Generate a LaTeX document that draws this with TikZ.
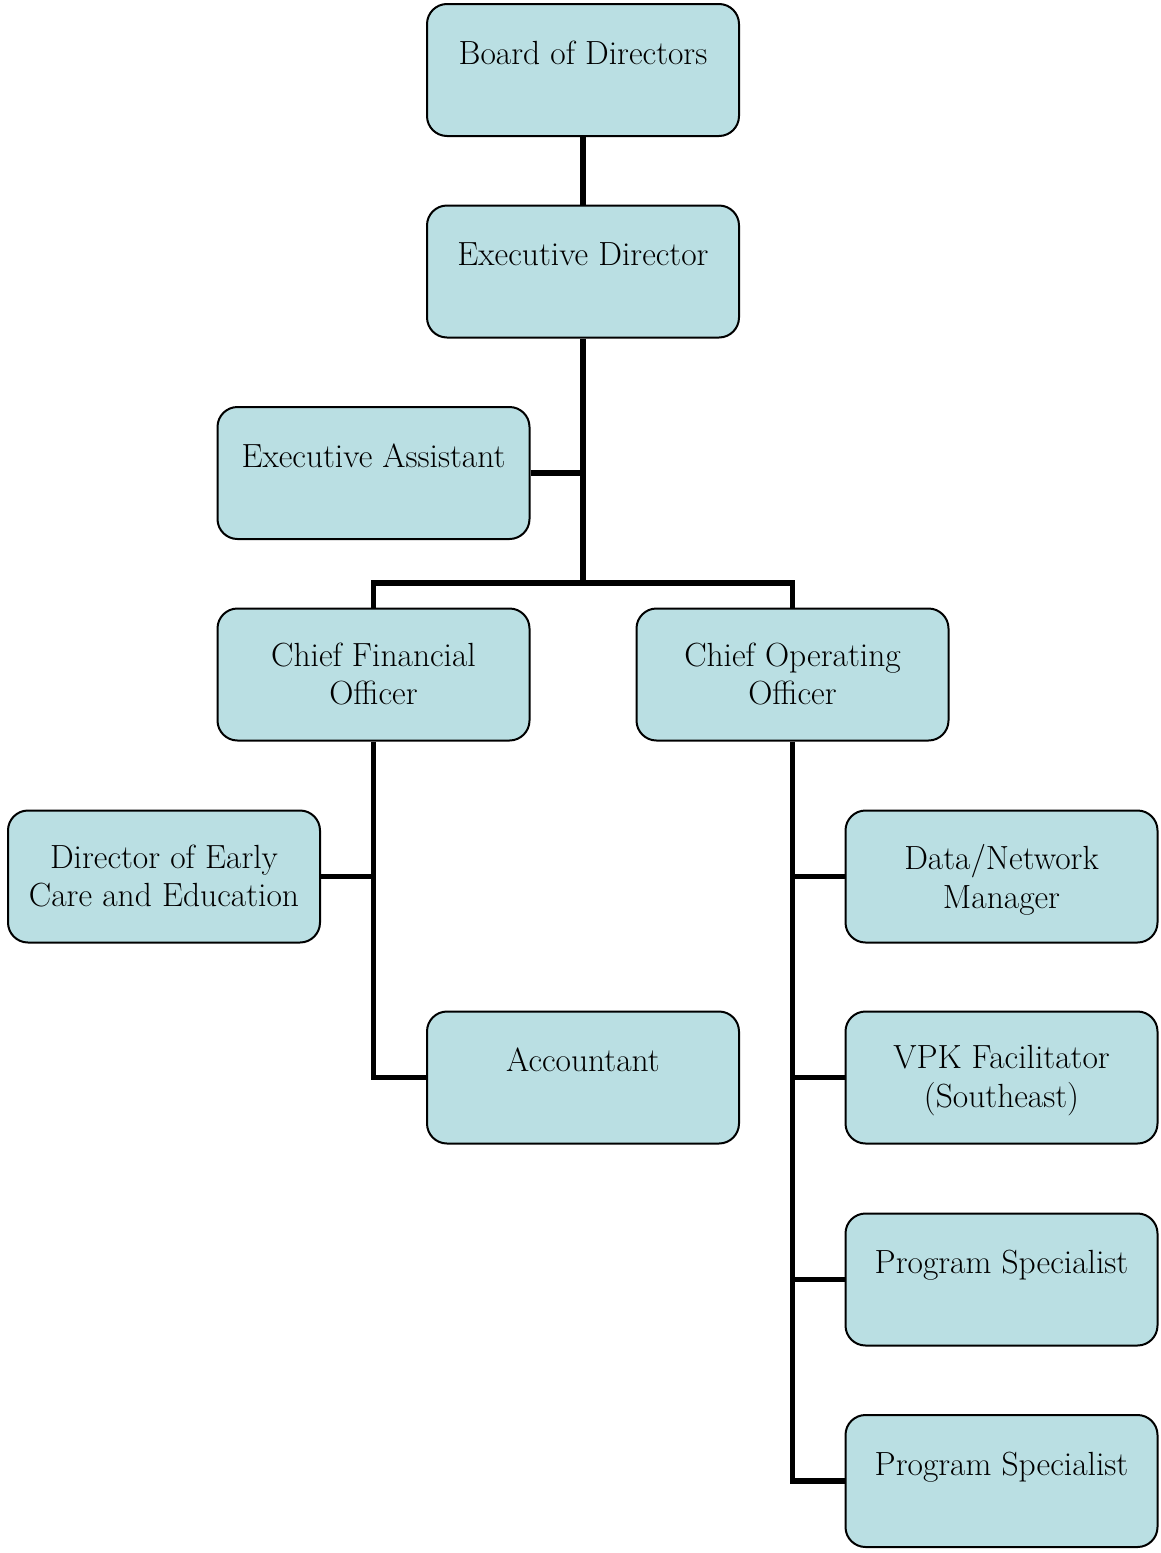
\documentclass[tikz,border=0pt]{standalone}
\begin{document}
\begin{tikzpicture}[x=1pt,y=-1pt,
  box/.style={draw=black,line width=2pt,fill=boxfill,rounded corners=20pt,
    minimum width=312pt,minimum height=132pt,inner sep=0pt},
  lbl/.style={anchor=north,inner sep=0pt,align=center,
    font=\fontsize{33.5}{38.5}\selectfont,execute at begin node=\rule{0pt}{26pt}},
  conn/.style={line width=5.2pt}]
\definecolor{boxfill}{HTML}{BADFE3}
\useasboundingbox (0,0) rectangle (1160,1553);
% boxes (centres)
\node[box] (board) at (583,70) {};
\node[box] (ed) at (583,271.5) {};
\node[box] (ea) at (373.5,473) {};
\node[box] (cfo) at (373.5,674.5) {};
\node[box] (coo) at (792.5,674.5) {};
\node[box] (dece) at (164,876.5) {};
\node[box] (dnm) at (1001.5,876.5) {};
\node[box] (acc) at (583,1077.5) {};
\node[box] (vpk) at (1001.5,1077.5) {};
\node[box] (ps1) at (1001.5,1279.5) {};
\node[box] (ps2) at (1001.5,1481) {};
% labels
\node[lbl] (board-t) at ([yshift=-35pt]board.north) {Board of Directors};
\node[lbl] (ed-t) at ([yshift=-35pt]ed.north) {Executive Director};
\node[lbl] (ea-t) at ([yshift=-35pt]ea.north) {Executive Assistant};
\node[lbl] (cfo-t) at ([yshift=-35pt]cfo.north) {Chief Financial\\Officer};
\node[lbl] (coo-t) at ([yshift=-35pt]coo.north) {Chief Operating\\Officer};
\node[lbl] (dece-t) at ([yshift=-35pt]dece.north) {Director of Early\\Care and Education};
\node[lbl] (dnm-t) at ([yshift=-35pt]dnm.north) {Data/Network\\Manager};
\node[lbl] (acc-t) at ([yshift=-35pt]acc.north) {Accountant};
\node[lbl] (vpk-t) at ([yshift=-35pt]vpk.north) {VPK Facilitator\\(Southeast)};
\node[lbl] (ps1-t) at ([yshift=-35pt]ps1.north) {Program Specialist};
\node[lbl] (ps2-t) at ([yshift=-35pt]ps2.north) {Program Specialist};
% junction coordinates
\coordinate (j1) at (583,583);
\coordinate (cfoJ) at (cfo.north |- j1);
\coordinate (cooJ) at (coo.north |- j1);
% connectors
\draw[conn] (board.south) -- (ed.north);
\draw[conn] (ed.south) -- (j1);
\draw[conn] (ea.east) -- (ea.east -| j1);
\draw[conn] (cfo.north) -- (cfoJ) -- (cooJ) -- (coo.north);
\draw[conn] (cfo.south) -- (cfo.south |- acc.west) -- (acc.west);
\draw[conn] (dece.east) -- (dece.east -| cfo.south);
\draw[conn] (coo.south) -- (coo.south |- ps2.west) -- (ps2.west);
\draw[conn] (dnm.west) -- (dnm.west -| coo.south);
\draw[conn] (vpk.west) -- (vpk.west -| coo.south);
\draw[conn] (ps1.west) -- (ps1.west -| coo.south);
\end{tikzpicture}
\end{document}
